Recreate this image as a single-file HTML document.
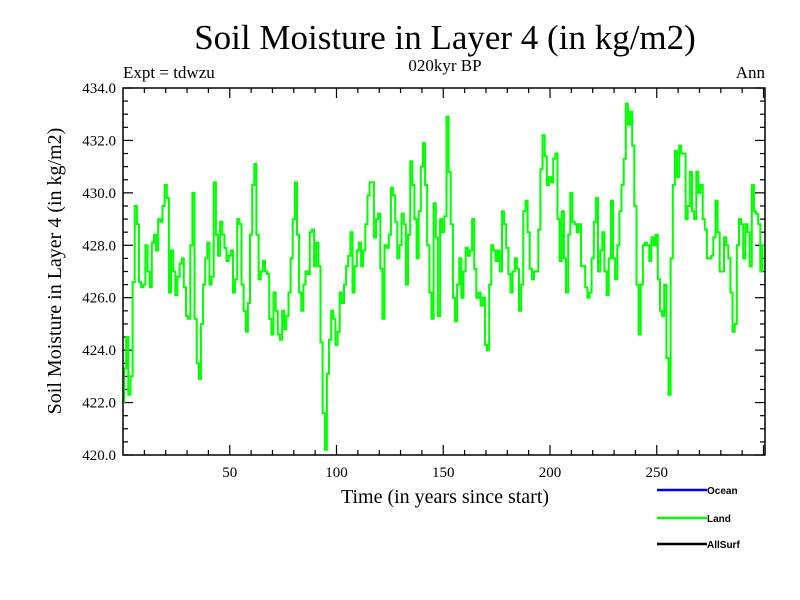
<!DOCTYPE html>
<html><head><meta charset="utf-8">
<style>
body{margin:0;background:#fff;}
svg{display:block;font-family:"Liberation Serif",serif;}
</style></head>
<body>
<svg id="chart" width="800" height="600" viewBox="0 0 800 600" xmlns="http://www.w3.org/2000/svg">
<rect width="800" height="600" fill="#fff"/>
<text x="445" y="49" text-anchor="middle" font-size="35">Soil Moisture in Layer 4 (in kg/m2)</text>
<text x="123" y="78" font-size="17">Expt = tdwzu</text>
<text x="445" y="71" text-anchor="middle" font-size="17">020kyr BP</text>
<text x="765" y="78" text-anchor="end" font-size="17">Ann</text>
<text transform="translate(61,271) rotate(-90)" text-anchor="middle" font-size="20">Soil Moisture in Layer 4 (in kg/m2)</text>
<text x="445" y="503" text-anchor="middle" font-size="20">Time (in years since start)</text>
<g id="ticks"></g>
<g id="labels"></g>
<polyline id="series-land" fill="none" stroke="#00ff00" stroke-width="2"/>
<rect x="123" y="88" width="642" height="367" fill="none" stroke="#000" stroke-width="1.5"/>
<g font-family="Liberation Sans, sans-serif" font-size="10" font-weight="bold">
<line x1="657" y1="490" x2="707" y2="490" stroke="#0000ff" stroke-width="2.5"/>
<text x="707" y="494">Ocean</text>
<line x1="657" y1="518" x2="707" y2="518" stroke="#00ff00" stroke-width="2.5"/>
<text x="707" y="522">Land</text>
<line x1="657" y1="544" x2="707" y2="544" stroke="#000" stroke-width="2.5"/>
<text x="707" y="548">AllSurf</text>
</g>
</svg>
<script>
const years_start = 0;
const land_values = [
422.0,423.3,424.5,422.3,423.0,426.6,429.5,428.8,426.6,426.4,426.5,428.0,427.0,426.4,428.1,428.4,427.8,429.0,428.9,429.5,
430.3,429.8,426.2,427.8,427.0,426.1,426.8,427.3,427.5,426.4,425.3,425.2,428.0,430.0,425.2,423.5,422.9,425.0,426.5,427.5,
428.1,426.5,426.8,430.4,428.4,427.6,428.9,428.4,427.9,427.4,427.6,427.8,426.2,426.7,429.0,428.8,426.5,425.5,424.7,425.8,
428.4,430.3,431.1,428.4,426.7,427.0,427.4,427.0,426.9,425.2,424.6,426.2,425.5,424.6,424.4,425.5,424.8,425.3,426.2,427.5,
429.0,430.4,428.4,426.2,425.5,426.5,427.0,426.9,428.5,428.6,427.2,428.1,427.2,424.3,421.6,420.2,423.1,424.4,425.5,425.2,
424.2,424.7,426.2,425.8,426.5,427.2,427.6,428.5,426.2,427.2,427.8,428.1,427.2,427.8,428.8,429.9,430.4,430.4,428.3,429.0,
429.2,427.1,425.2,428.0,427.9,428.4,430.2,429.9,428.9,427.5,428.0,429.2,428.8,426.5,428.4,431.2,430.3,429.0,427.5,429.3,
431.0,431.9,430.3,428.0,426.2,425.2,429.6,428.3,425.3,429.0,428.5,429.1,432.9,430.8,428.8,426.0,425.1,426.5,427.5,426.0,
427.0,427.9,427.6,427.8,429.0,427.1,426.0,426.2,425.7,426.0,424.2,424.0,426.5,428.0,427.8,427.4,427.8,427.0,429.3,428.8,
427.9,426.9,426.2,427.0,427.5,427.1,425.5,426.5,429.3,429.7,428.5,427.1,426.7,427.0,427.0,428.6,430.9,432.2,431.4,430.3,
430.6,430.4,431.3,431.5,429.0,427.4,429.3,427.5,426.2,428.4,430.0,428.9,428.8,428.5,428.8,427.2,427.2,426.4,426.0,426.2,
427.5,428.9,429.8,427.0,427.8,428.5,427.0,426.1,427.5,429.7,427.5,426.7,428.0,429.3,430.3,431.3,433.4,432.6,433.1,431.8,
429.5,426.5,424.6,426.5,428.0,428.1,428.0,427.4,428.3,428.0,428.4,426.7,425.5,425.3,426.5,423.7,422.3,427.5,430.3,431.6,
430.6,431.8,431.5,431.5,429.0,429.5,430.8,429.3,429.0,430.8,430.0,430.3,429.0,428.6,427.5,427.5,427.6,428.3,429.7,428.5,
427.0,427.0,428.3,428.0,427.5,426.2,424.7,425.0,428.0,429.0,428.8,427.5,428.8,428.5,427.2,430.3,429.3,429.2,428.8,427.0,
428.0];
const y_tick_values = [420,422,424,426,428,430,432,434];
const y_tick_labels = ["420.0","422.0","424.0","426.0","428.0","430.0","432.0","434.0"];
const x_tick_values = [50,100,150,200,250];
const x_tick_labels = ["50","100","150","200","250"];

const X0=123, X1=765, Y0=455, Y1=88;
const XMIN=0, XMAX=300.7, YMIN=420, YMAX=434;
function xs(v){return X0+(v-XMIN)/(XMAX-XMIN)*(X1-X0);}
function ys(v){return Y0-(v-YMIN)/(YMAX-YMIN)*(Y0-Y1);}
const NS="http://www.w3.org/2000/svg";

const stepPts=[];
land_values.forEach((v,i)=>{
  const xa=Math.max(X0,xs(years_start+i-0.5)), xb=Math.min(X1,xs(years_start+i+0.5));
  stepPts.push(xa.toFixed(1)+","+ys(v).toFixed(1));
  stepPts.push(xb.toFixed(1)+","+ys(v).toFixed(1));
});
document.getElementById("series-land").setAttribute("points",stepPts.join(" "));

const tg=document.getElementById("ticks"), lg=document.getElementById("labels");
function tick(x1,y1,x2,y2){
  const l=document.createElementNS(NS,"line");
  l.setAttribute("x1",x1);l.setAttribute("y1",y1);l.setAttribute("x2",x2);l.setAttribute("y2",y2);
  l.setAttribute("stroke","#000");l.setAttribute("stroke-width","1.2");
  
  
  tg.appendChild(l);
}
for(let v=420;v<=434.001;v+=0.5){
  const y=ys(v), major=Math.abs(v/2-Math.round(v/2))<1e-6, len=major?10:5;
  tick(X0,y,X0+len,y); tick(X1,y,X1-len,y);
}
for(let v=10;v<=300;v+=10){
  const x=xs(v), len=(v%50===0)?10:5;
  tick(x,Y0,x,Y0-len); tick(x,Y1,x,Y1+len);
}
y_tick_values.forEach((v,i)=>{
  const t=document.createElementNS(NS,"text");
  t.setAttribute("x",116);t.setAttribute("y",ys(v)+5);t.setAttribute("text-anchor","end");t.setAttribute("font-size","15");
  t.textContent=y_tick_labels[i];
  
  
  lg.appendChild(t);
});
x_tick_values.forEach((v,i)=>{
  const t=document.createElementNS(NS,"text");
  t.setAttribute("x",xs(v));t.setAttribute("y",477);t.setAttribute("text-anchor","middle");t.setAttribute("font-size","15");
  t.textContent=x_tick_labels[i];
  
  
  lg.appendChild(t);
});
</script>
</body></html>
